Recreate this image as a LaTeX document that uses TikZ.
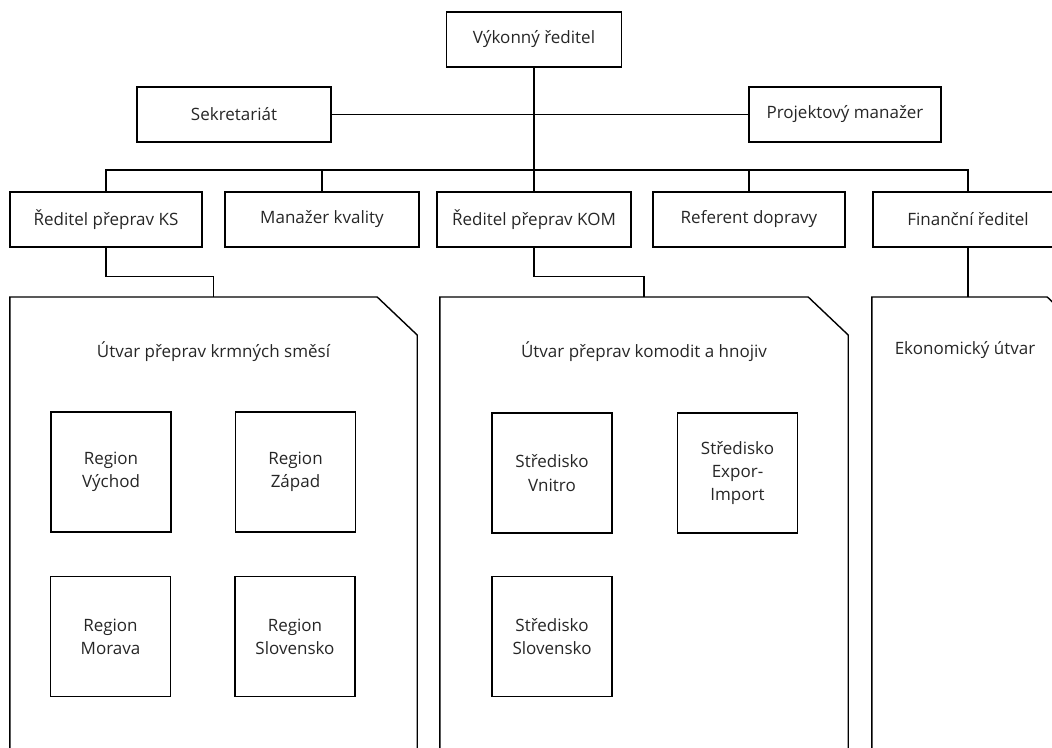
\documentclass[tikz,border=0pt]{standalone}
\usepackage{fontspec}
\setmainfont{Open Sans}
\begin{document}
\begin{tikzpicture}[x=1pt,y=-1pt,
  every node/.style={font=\fontsize{17}{23.3}\selectfont, text=black!85},
  box/.style={draw, line width=1.4pt, minimum height=55pt, inner sep=0pt},
  sq/.style={draw, line width=1.4pt, minimum width=120pt, minimum height=120pt, inner sep=0pt, align=center},
  cont/.style={minimum height=470pt, inner sep=0pt},
  conn/.style={line width=1.4pt},
  ttl/.style={inner sep=0pt}]
\useasboundingbox (0,0) rectangle (1052,747);
\clip (0,0) rectangle (1052,747);
% top
\node[box, minimum width=175pt] (vr) at (534,39.5) {Výkonný ředitel};
\node[box, minimum width=194pt] (sek) at (234,114.5) {Sekretariát};
\node[box, minimum width=192pt] (pm) at (845,114.5) {Projektový manažer};
% level 2
\node[box, minimum width=192pt] (ks) at (106,219.5) {Ředitel přeprav KS};
\node[box, minimum width=194pt] (mk) at (322,219.5) {Manažer kvality};
\node[box, minimum width=194pt] (kom) at (534,219.5) {Ředitel přeprav KOM};
\node[box, minimum width=192pt] (ref) at (749,219.5) {Referent dopravy};
\node[box, minimum width=190pt] (fin) at (968,219.5) {Finanční ředitel};
\coordinate (bus) at (534,170);
% connectors top
\draw[conn] (vr.south) -- (kom.north);
\draw[conn] (sek.east) -- (pm.west);
\draw[conn] (ks.north) |- (bus) -| (fin.north);
\draw[conn] (mk.north) -- (mk.north |- bus);
\draw[conn] (ref.north) -- (ref.north |- bus);
% containers
\node[cont, minimum width=407pt, anchor=north] (c1) at (213.5,297) {};
\node[cont, minimum width=408pt, anchor=north] (c2) at (644,297) {};
\node[cont, minimum width=215pt, anchor=north] (c3) at (979.5,297) {};
\foreach \c in {c1,c2,c3}{
  \draw[conn] (\c.south west) -- (\c.north west) -- ([xshift=-40pt]\c.north east) -- ([yshift=-38pt]\c.north east) -- (\c.south east);
}
\node[ttl] (t1) at (213.5,352) {Útvar přeprav krmných směsí};
\node[ttl] (t2) at (644,352) {Útvar přeprav komodit a hnojiv};
\node[ttl] (t3) at (965,350) {Ekonomický útvar};
% lower connectors
\draw[conn] (ks.south) -- ++(0,28.5) -| (c1.north);
\draw[conn] (kom.south) -- ++(0,28.5) -| (c2.north);
\draw[conn] (fin.south) -- (fin.south |- c3.north);
% inner boxes
\node[sq] (rv) at (111,472) {Region\\Východ};
\node[sq] (rz) at (295.5,472) {Region\\Západ};
\node[sq] (rm) at (110.5,636.5) {Region\\Morava};
\node[sq] (rs) at (295,636.5) {Region\\Slovensko};
\node[sq] (sv) at (552,473) {Středisko\\Vnitro};
\node[sq] (se) at (737.5,473) {Středisko\\Expor-\\Import};
\node[sq] (ss) at (552,636.5) {Středisko\\Slovensko};
\end{tikzpicture}
\end{document}
